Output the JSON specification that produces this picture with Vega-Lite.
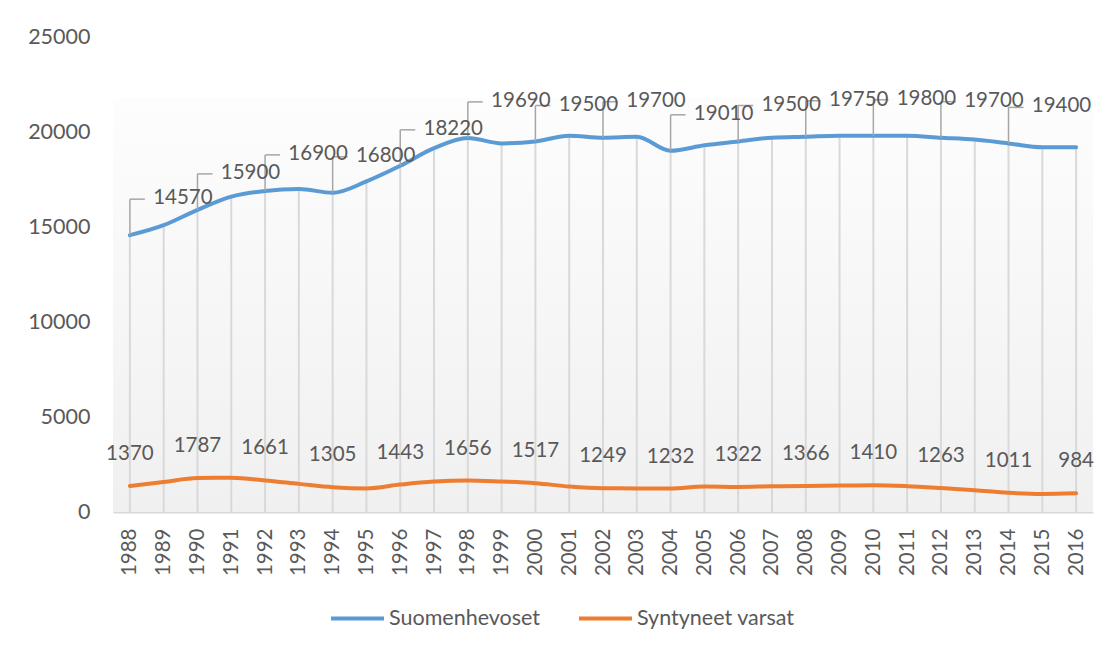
{
  "$schema": "https://vega.github.io/schema/vega-lite/v6.json",
  "width": 980,
  "height": 475,
  "autosize": {"type": "none"},
  "padding": {"left": 113, "top": 37, "right": 27, "bottom": 139},
  "background": "white",
  "config": {
    "font": "Lato",
    "view": {"stroke": null},
    "axis": {"grid": false, "ticks": false, "labelColor": "#595959", "labelFontSize": 21.5, "labelFont": "Lato", "title": null},
    "axisX": {"labelAngle": -90, "labelPadding": 16, "labelFontSize": 20.5, "domainColor": "#d9d9d9", "domainWidth": 2},
    "axisY": {"domain": false, "labelPadding": 23, "tickCount": 6, "format": "d"}
  },
  "datasets": {
    "main": [
      {"year": 1988, "series": "Suomenhevoset", "value": 14570},
      {"year": 1989, "series": "Suomenhevoset", "value": 15100},
      {"year": 1990, "series": "Suomenhevoset", "value": 15900},
      {"year": 1991, "series": "Suomenhevoset", "value": 16600},
      {"year": 1992, "series": "Suomenhevoset", "value": 16900},
      {"year": 1993, "series": "Suomenhevoset", "value": 17000},
      {"year": 1994, "series": "Suomenhevoset", "value": 16800},
      {"year": 1995, "series": "Suomenhevoset", "value": 17400},
      {"year": 1996, "series": "Suomenhevoset", "value": 18220},
      {"year": 1997, "series": "Suomenhevoset", "value": 19150},
      {"year": 1998, "series": "Suomenhevoset", "value": 19690},
      {"year": 1999, "series": "Suomenhevoset", "value": 19400},
      {"year": 2000, "series": "Suomenhevoset", "value": 19500},
      {"year": 2001, "series": "Suomenhevoset", "value": 19800},
      {"year": 2002, "series": "Suomenhevoset", "value": 19700},
      {"year": 2003, "series": "Suomenhevoset", "value": 19750},
      {"year": 2004, "series": "Suomenhevoset", "value": 19010},
      {"year": 2005, "series": "Suomenhevoset", "value": 19300},
      {"year": 2006, "series": "Suomenhevoset", "value": 19500},
      {"year": 2007, "series": "Suomenhevoset", "value": 19700},
      {"year": 2008, "series": "Suomenhevoset", "value": 19750},
      {"year": 2009, "series": "Suomenhevoset", "value": 19800},
      {"year": 2010, "series": "Suomenhevoset", "value": 19800},
      {"year": 2011, "series": "Suomenhevoset", "value": 19800},
      {"year": 2012, "series": "Suomenhevoset", "value": 19700},
      {"year": 2013, "series": "Suomenhevoset", "value": 19600},
      {"year": 2014, "series": "Suomenhevoset", "value": 19400},
      {"year": 2015, "series": "Suomenhevoset", "value": 19200},
      {"year": 2016, "series": "Suomenhevoset", "value": 19200},
      {"year": 1988, "series": "Syntyneet varsat", "value": 1370},
      {"year": 1989, "series": "Syntyneet varsat", "value": 1580},
      {"year": 1990, "series": "Syntyneet varsat", "value": 1787},
      {"year": 1991, "series": "Syntyneet varsat", "value": 1800},
      {"year": 1992, "series": "Syntyneet varsat", "value": 1661},
      {"year": 1993, "series": "Syntyneet varsat", "value": 1480},
      {"year": 1994, "series": "Syntyneet varsat", "value": 1305},
      {"year": 1995, "series": "Syntyneet varsat", "value": 1240},
      {"year": 1996, "series": "Syntyneet varsat", "value": 1443},
      {"year": 1997, "series": "Syntyneet varsat", "value": 1600},
      {"year": 1998, "series": "Syntyneet varsat", "value": 1656},
      {"year": 1999, "series": "Syntyneet varsat", "value": 1600},
      {"year": 2000, "series": "Syntyneet varsat", "value": 1517},
      {"year": 2001, "series": "Syntyneet varsat", "value": 1340},
      {"year": 2002, "series": "Syntyneet varsat", "value": 1249},
      {"year": 2003, "series": "Syntyneet varsat", "value": 1240},
      {"year": 2004, "series": "Syntyneet varsat", "value": 1232},
      {"year": 2005, "series": "Syntyneet varsat", "value": 1340},
      {"year": 2006, "series": "Syntyneet varsat", "value": 1322},
      {"year": 2007, "series": "Syntyneet varsat", "value": 1350},
      {"year": 2008, "series": "Syntyneet varsat", "value": 1366},
      {"year": 2009, "series": "Syntyneet varsat", "value": 1390},
      {"year": 2010, "series": "Syntyneet varsat", "value": 1410},
      {"year": 2011, "series": "Syntyneet varsat", "value": 1360},
      {"year": 2012, "series": "Syntyneet varsat", "value": 1263},
      {"year": 2013, "series": "Syntyneet varsat", "value": 1150},
      {"year": 2014, "series": "Syntyneet varsat", "value": 1011},
      {"year": 2015, "series": "Syntyneet varsat", "value": 950},
      {"year": 2016, "series": "Syntyneet varsat", "value": 984}
    ]
  },
  "layer": [
    {
      "data": {"values": [{}]},
      "mark": {
        "type": "rect",
        "fill": {
          "gradient": "linear", "x1": 0, "y1": 0, "x2": 0, "y2": 1,
          "stops": [{"offset": 0, "color": "#fdfdfd"}, {"offset": 1, "color": "#f0f0f0"}]
        }
      },
      "encoding": {
        "y": {"datum": 0, "type": "quantitative", "scale": {"domain": [0, 25000], "nice": false}, "title": null},
        "y2": {"datum": 21790}
      }
    },
    {
      "data": {"name": "main"},
      "transform": [{"filter": "datum.series == 'Suomenhevoset'"}],
      "mark": {"type": "rule", "color": "#d9d9d9", "strokeWidth": 2},
      "encoding": {
        "x": {"field": "year", "type": "ordinal", "scale": {"type": "point", "padding": 0.5}, "title": null},
        "y": {"field": "value", "type": "quantitative", "title": null},
        "y2": {"datum": 0}
      }
    },
    {
      "data": {"name": "main"},
      "mark": {"type": "line", "strokeWidth": 4, "interpolate": "monotone", "strokeCap": "round"},
      "encoding": {
        "x": {"field": "year", "type": "ordinal", "title": null},
        "y": {"field": "value", "type": "quantitative", "title": null},
        "color": {
          "field": "series", "type": "nominal",
          "scale": {"domain": ["Suomenhevoset", "Syntyneet varsat"], "range": ["#5B9BD5", "#ED7D31"]},
          "legend": {
            "title": null, "orient": "none", "direction": "horizontal",
            "legendX": 216, "legendY": 553, "padding": 0,
            "symbolType": "stroke", "symbolSize": 2809, "symbolStrokeWidth": 4,
            "labelFontSize": 21.5, "labelColor": "#595959", "labelFont": "Lato",
            "labelOffset": 3, "columnPadding": 30
          }
        }
      }
    },
    {
      "data": {"name": "main"},
      "transform": [{"filter": "datum.series == 'Suomenhevoset' && datum.year % 2 == 0 && datum.year < 2016"}],
      "mark": {"type": "rule", "color": "#a6a6a6", "strokeWidth": 1.5, "y2Offset": -36},
      "encoding": {
        "x": {"field": "year", "type": "ordinal", "title": null},
        "y": {"field": "value", "type": "quantitative", "title": null},
        "y2": {"field": "value"}
      }
    },
    {
      "data": {"name": "main"},
      "transform": [{"filter": "datum.series == 'Suomenhevoset' && datum.year % 2 == 0 && datum.year < 2016"}],
      "mark": {"type": "rule", "color": "#a6a6a6", "strokeWidth": 1.5, "x2Offset": 15, "yOffset": -36},
      "encoding": {
        "x": {"field": "year", "type": "ordinal", "title": null},
        "x2": {"field": "year"},
        "y": {"field": "value", "type": "quantitative", "title": null}
      }
    },
    {
      "data": {"name": "main"},
      "transform": [{"filter": "datum.series == 'Suomenhevoset' && datum.year % 2 == 0 && datum.year < 2016"}],
      "mark": {"type": "text", "dx": 53, "dy": -37, "fontSize": 20.5, "color": "#595959", "font": "Lato", "baseline": "middle"},
      "encoding": {
        "x": {"field": "year", "type": "ordinal", "title": null},
        "y": {"field": "value", "type": "quantitative", "title": null},
        "text": {"field": "value", "type": "quantitative", "format": "d"}
      }
    },
    {
      "data": {"name": "main"},
      "transform": [{"filter": "datum.series == 'Syntyneet varsat' && datum.year % 2 == 0"}],
      "mark": {"type": "text", "dy": -32, "fontSize": 20.5, "color": "#595959", "font": "Lato", "baseline": "middle"},
      "encoding": {
        "x": {"field": "year", "type": "ordinal", "title": null},
        "y": {"field": "value", "type": "quantitative", "title": null},
        "text": {"field": "value", "type": "quantitative", "format": "d"}
      }
    }
  ]
}
